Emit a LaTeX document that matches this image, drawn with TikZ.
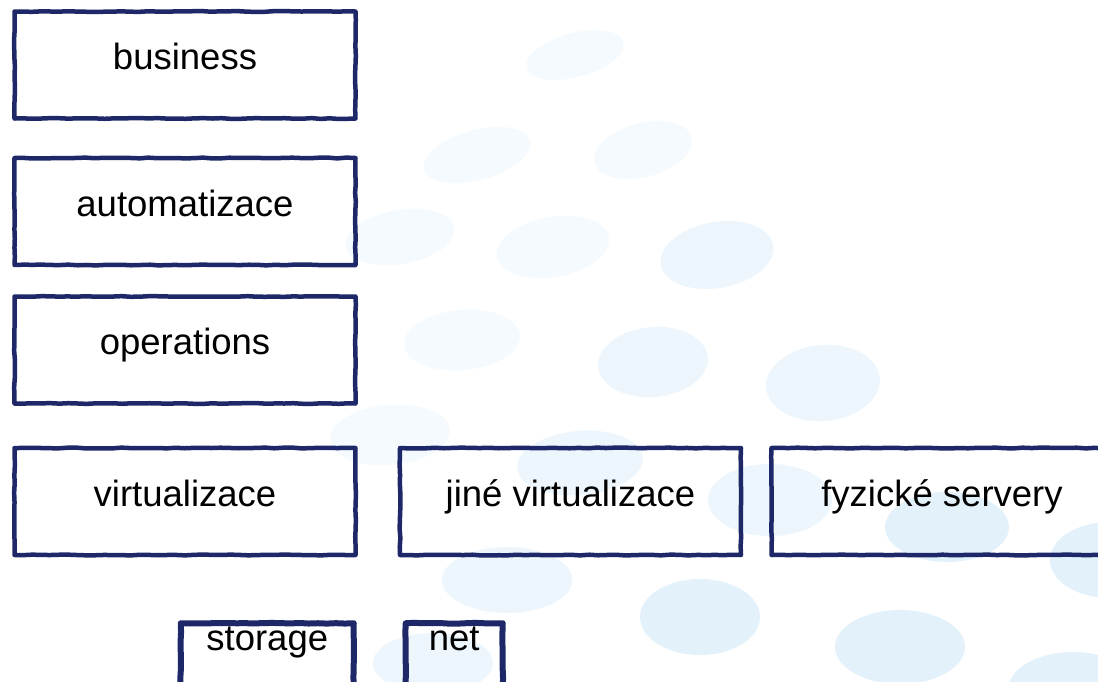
\documentclass[tikz,border=0pt]{standalone}
\usepackage{fontspec}
\setmainfont{Liberation Sans}
\usetikzlibrary{positioning,decorations.pathmorphing}

\definecolor{boxnavy}{RGB}{30,40,105}
\definecolor{dotblue}{RGB}{221,238,250}

\begin{document}
\begin{tikzpicture}[
    x=1pt, y=-1pt,
    node distance=30pt,
    layer/.style={rectangle, draw=boxnavy, line width=4.5pt, line join=round, minimum width=341pt, minimum height=107pt, text height=26pt, text depth=17pt, font=\fontsize{36.5}{44}\selectfont, decorate, decoration={random steps, segment length=9pt, amplitude=0.4pt}},
    part/.style={layer, line width=6pt, minimum height=0pt, inner ysep=1pt, text depth=90pt},
    dotfaint/.style={fill=dotblue!32},
    dotlight/.style={fill=dotblue!55},
    dotmid/.style={fill=dotblue!82}
]
\pgfmathsetseed{7}
\useasboundingbox (0,0) rectangle (1098,681);
\clip (0,0) rectangle (1098,681);
\fill[white] (0,0) rectangle (1098,681);

% Background dots
\fill[dotfaint, rotate around={15:(575,55)}] (575,55) ellipse [x radius=50, y radius=22];
\fill[dotfaint, rotate around={15:(477,155)}] (477,155) ellipse [x radius=55, y radius=25];
\fill[dotfaint, rotate around={15:(643,150)}] (643,150) ellipse [x radius=50, y radius=27];
\fill[dotfaint, rotate around={10:(400,237)}] (400,237) ellipse [x radius=55, y radius=27];
\fill[dotfaint, rotate around={10:(553,247)}] (553,247) ellipse [x radius=57, y radius=30];
\fill[dotlight, rotate around={10:(717,255)}] (717,255) ellipse [x radius=57, y radius=33];
\fill[dotfaint, rotate around={5:(462,340)}] (462,340) ellipse [x radius=58, y radius=30];
\fill[dotlight, rotate around={5:(653,362)}] (653,362) ellipse [x radius=55, y radius=35];
\fill[dotlight, rotate around={5:(823,383)}] (823,383) ellipse [x radius=57, y radius=38];
\fill[dotfaint, rotate around={5:(390,435)}] (390,435) ellipse [x radius=60, y radius=30];
\fill[dotlight, rotate around={5:(580,463)}] (580,463) ellipse [x radius=63, y radius=32];
\fill[dotlight] (770,500) ellipse [x radius=62, y radius=36];
\fill[dotmid] (947,527) ellipse [x radius=62, y radius=35];
\fill[dotmid] (1110,560) ellipse [x radius=60, y radius=38];
\fill[dotlight] (507,580) ellipse [x radius=65, y radius=33];
\fill[dotmid] (700,617) ellipse [x radius=60, y radius=38];
\fill[dotmid] (900,647) ellipse [x radius=65, y radius=37];
\fill[dotlight] (433,663) ellipse [x radius=60, y radius=30];
\fill[dotmid] (1073,690) ellipse [x radius=65, y radius=38];

% Stack
\node[layer] (business) at (185,65) {business};
\node[layer, below=35pt of business] (automation) {automatizace};
\node[layer, below=27pt of automation] (operations) {operations};
\node[layer, below=40pt of operations] (virt) {virtualizace};

% Other platforms
\node[layer, right=40pt of virt] (othervirt) {jiné virtualizace};
\node[layer, right=26pt of othervirt] (physical) {fyzické servery};

% Infrastructure
\node[part, minimum width=173pt, below left=63pt and 1pt of virt.south east] (storage) {storage};
\node[part, minimum width=97pt, below right=63pt and 5pt of othervirt.south west] (net) {net};
\end{tikzpicture}
\end{document}
